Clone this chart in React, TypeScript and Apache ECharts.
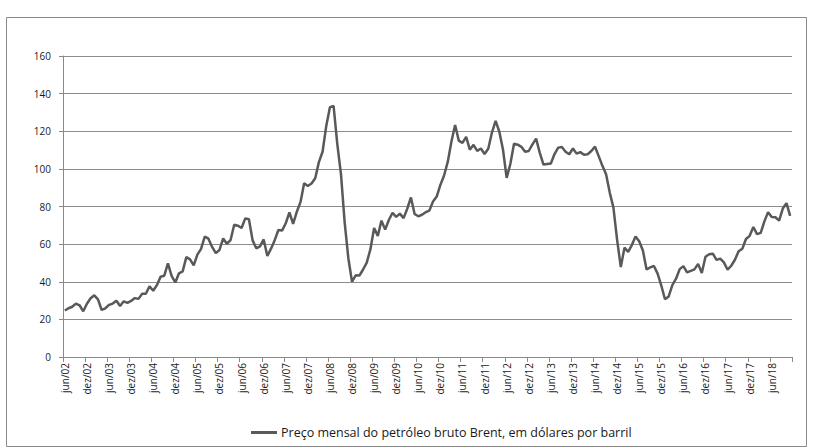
import React, { useEffect, useRef } from "react";
import * as echarts from "echarts";

// Preço mensal do petróleo Brent (US$/barril), jun/2002 – nov/2018
const y2002 = [24.7, 25.9, 26.7, 28.4, 27.5, 24.3, 28.3]; // jun–dez
const y2003 = [31.2, 32.8, 30.6, 25.0, 25.9, 27.7, 28.4, 29.9, 27.1, 29.6, 28.8, 29.8];
const y2004 = [31.3, 30.9, 33.6, 33.6, 37.6, 35.2, 38.2, 42.7, 43.2, 49.8, 43.1, 39.6];
const y2005 = [44.5, 45.5, 53.1, 51.9, 48.7, 54.4, 57.5, 64.0, 62.9, 58.5, 55.2, 56.9];
const y2006 = [63.0, 60.2, 62.1, 70.3, 69.8, 68.6, 73.7, 73.2, 62.0, 57.8, 58.8, 62.5];
const y2007 = [53.7, 57.6, 62.1, 67.5, 67.2, 71.1, 76.9, 70.8, 77.2, 82.3, 92.4, 90.9];
const y2008 = [92.2, 95.0, 103.6, 109.1, 122.8, 132.8, 133.4, 113.2, 97.2, 71.6, 52.5, 40.0];
const y2009 = [43.4, 43.3, 46.5, 50.2, 57.3, 68.6, 64.4, 72.5, 67.7, 72.8, 76.7, 74.5];
const y2010 = [76.2, 73.8, 78.8, 84.8, 76.0, 74.8, 75.6, 77.0, 77.8, 82.7, 85.3, 91.5];
const y2011 = [96.5, 103.7, 114.6, 123.3, 115.0, 113.8, 117.0, 110.2, 112.8, 109.6, 110.8, 107.9];
const y2012 = [110.7, 119.3, 125.5, 119.8, 110.3, 95.2, 102.6, 113.4, 112.9, 111.7, 109.1, 109.5];
const y2013 = [113.0, 116.1, 108.5, 102.3, 102.6, 102.9, 107.9, 111.3, 111.6, 109.1, 107.8, 110.8];
const y2014 = [108.1, 108.9, 107.5, 107.8, 109.5, 111.8, 106.8, 101.6, 97.1, 87.4, 79.4, 62.3];
const y2015 = [47.8, 58.1, 55.9, 59.5, 64.1, 61.5, 56.6, 46.5, 47.6, 48.4, 44.3, 38.0];
const y2016 = [30.7, 32.2, 38.2, 41.6, 46.7, 48.3, 45.0, 45.8, 46.6, 49.5, 44.7, 53.3];
const y2017 = [54.6, 54.9, 51.6, 52.3, 50.3, 46.4, 48.5, 51.7, 56.2, 57.5, 62.7, 64.4];
const y2018 = [69.1, 65.3, 66.0, 72.1, 77.0, 74.4, 74.3, 72.5, 78.9, 81.8, 75.0]; // jan–nov

const prices = [
  ...y2002, ...y2003, ...y2004, ...y2005, ...y2006, ...y2007, ...y2008, ...y2009,
  ...y2010, ...y2011, ...y2012, ...y2013, ...y2014, ...y2015, ...y2016, ...y2017, ...y2018,
];

const monthNames = ["jan", "fev", "mar", "abr", "mai", "jun", "jul", "ago", "set", "out", "nov", "dez"];
const firstYear = 2002;
const firstMonth = 5; // jun
const categories: string[] = prices.map((_, i) => {
  const m = (firstMonth + i) % 12;
  const y = firstYear + Math.floor((firstMonth + i) / 12);
  return `${monthNames[m]}/${String(y % 100).padStart(2, "0")}`;
});

const yTicks = { min: 0, max: 160, interval: 20 };
const seriesName = "Preço mensal do petróleo bruto Brent, em dólares por barril";

const FONT = "'Open Sans', 'Noto Sans', sans-serif";

export default function App() {
  const ref = useRef<HTMLDivElement>(null);
  useEffect(() => {
    if (!ref.current) return;
    const chart = echarts.init(ref.current, undefined, { renderer: "svg" });
    chart.setOption({
      animation: false,
      backgroundColor: "#ffffff",
      textStyle: { fontFamily: FONT },
      grid: { left: 63, right: 23, top: 56, bottom: 91, containLabel: false },
      graphic: [
        {
          type: "rect",
          shape: { x: 6.5, y: 17.5, width: 800, height: 429 },
          style: { fill: "none", stroke: "#8a8a8a", lineWidth: 1 },
          silent: true,
        },
      ],
      legend: {
        left: 246,
        top: 421,
        icon: "rect",
        itemWidth: 26,
        itemHeight: 3,
        itemGap: 10,
        textStyle: { fontFamily: FONT, fontSize: 12.5, color: "#1a1a1a", padding: [0, 0, 0, -1] },
        data: [seriesName],
      },
      xAxis: {
        type: "category",
        data: categories,
        boundaryGap: true,
        axisLine: { show: true, lineStyle: { color: "#8a8a8a", width: 1 } },
        axisTick: { show: true, interval: 5, length: 5, lineStyle: { color: "#8a8a8a" } },
        axisLabel: {
          interval: 5,
          rotate: 90,
          margin: 6,
          fontFamily: FONT,
          fontSize: 10,
          color: "#1a1a1a",
        },
        splitLine: { show: false },
      },
      yAxis: {
        type: "value",
        min: yTicks.min,
        max: yTicks.max,
        interval: yTicks.interval,
        axisLine: { show: true, lineStyle: { color: "#8a8a8a", width: 1 } },
        axisTick: { show: true, length: 4, lineStyle: { color: "#8a8a8a" } },
        axisLabel: { margin: 12, fontFamily: FONT, fontSize: 10, color: "#1a1a1a" },
        splitLine: { show: true, lineStyle: { color: "#8c8c8c", width: 1 } },
      },
      series: [
        {
          name: seriesName,
          type: "line",
          data: prices,
          symbol: "none",
          lineStyle: { color: "#595959", width: 2.5 },
          itemStyle: { color: "#595959" },
        },
      ],
    });
    return () => chart.dispose();
  }, []);
  return (
    <div
      ref={ref}
      style={{ position: "fixed", left: 0, top: 0, width: 815, height: 448 }}
    />
  );
}
